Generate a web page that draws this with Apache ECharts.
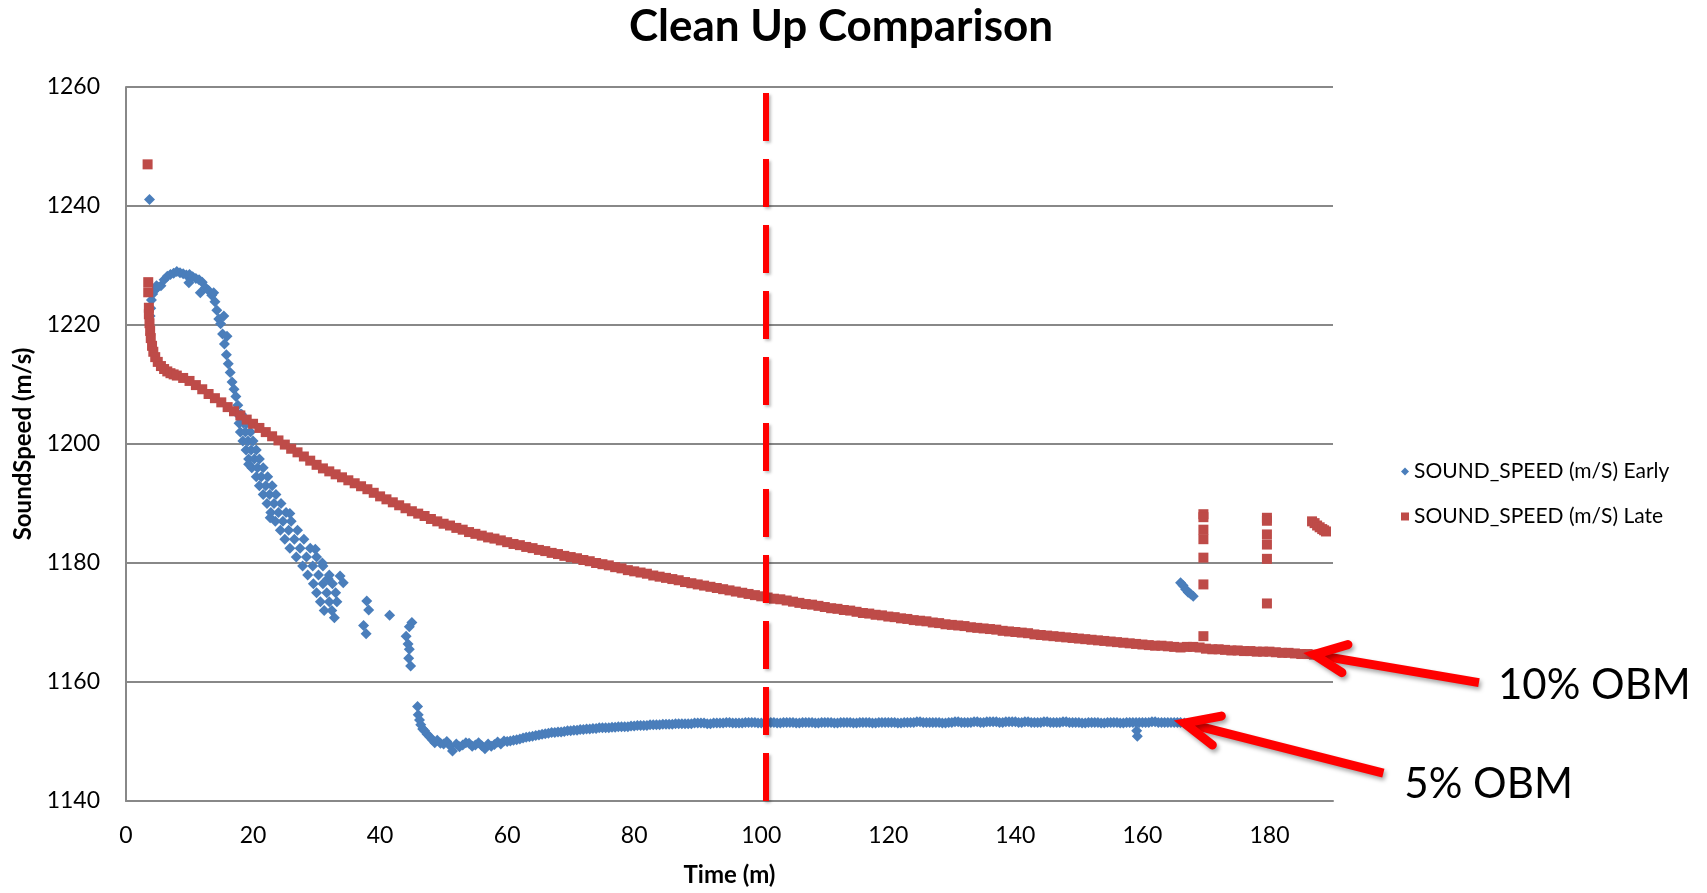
<!DOCTYPE html>
<html>
<head>
<meta charset="utf-8">
<script src="https://cdn.jsdelivr.net/npm/echarts@6/dist/echarts.min.js"></script>
<style>
html,body{margin:0;padding:0;background:#fff;}
#main{width:1707px;height:893px;}
</style>
</head>
<body>
<div id="main"></div>
<script>
// ---------- DATA ----------
const seriesNames = ['SOUND_SPEED (m/S) Early', 'SOUND_SPEED (m/S) Late'];
const xTicks = [0, 20, 40, 60, 80, 100, 120, 140, 160, 180];
const yTicks = [1140, 1160, 1180, 1200, 1220, 1240, 1260];
const cleanupTime = 100.7;

// Early (blue) – [time (m), sound speed (m/s)]
const earlyStart = [[3.7,1241.1],[3.8,1221.5],[3.9,1222.8],[4.0,1224.2],[4.2,1225.2],[4.5,1225.8],[4.8,1226.6],[5.0,1226.4],
  [5.5,1226.6],[6.0,1227.6],[6.5,1228.2],[7.0,1228.5],[7.5,1228.7],[8.0,1229.0],[8.5,1228.8],[9.0,1228.6],[9.5,1228.4],
  [9.9,1227.1],[10.0,1228.5],[10.5,1228.1],[11.0,1227.8],[11.5,1227.6],[11.7,1225.4],[12.0,1227.2],[12.5,1226.3],[13.0,1225.8],
  [13.5,1225.0],[13.8,1225.4],[14.0,1223.9],[14.3,1222.5],[14.6,1221.0],[14.9,1220.2],[15.2,1218.5],[15.4,1221.5],[15.5,1216.8],
  [15.8,1215.0],[15.9,1218.1],[16.1,1213.5],[16.4,1212.0],[16.7,1210.4],[17.0,1209.2],[17.3,1208.0],[17.6,1206.5],[18.0,1205.0]];
const earlyDrop = [[17.6,1205.0],[18.2,1205.0],[17.8,1203.5],[18.5,1203.5],[19.0,1203.5],[18.0,1202.0],[18.8,1202.0],[19.6,1202.0],
  [18.4,1200.5],[19.2,1200.5],[20.0,1200.5],[18.9,1199.0],[19.7,1199.0],[20.5,1199.0],[19.3,1197.5],[20.2,1197.5],[21.0,1197.5],
  [19.8,1196.0],[20.7,1196.0],[21.6,1196.0],[20.5,1194.5],[21.3,1194.5],[22.3,1194.5],[21.0,1193.0],[22.0,1193.0],[23.0,1193.0],
  [21.6,1191.5],[22.6,1191.5],[23.6,1191.5],[22.2,1190.0],[23.3,1190.0],[24.4,1190.0],[22.8,1188.5],[24.0,1188.5],[25.2,1188.5],
  [23.5,1187.0],[24.7,1187.0],[26.0,1187.0],[24.3,1185.5],[25.6,1185.5],[27.0,1185.5],[25.0,1184.0],[26.5,1184.0],[28.0,1184.0],
  [25.8,1182.5],[27.4,1182.5],[29.0,1182.5],[26.8,1181.0],[28.4,1181.0],[30.0,1181.0],[27.8,1179.5],[29.4,1179.5],[31.0,1179.5],
  [28.6,1178.0],[30.3,1178.0],[32.0,1178.0],[33.7,1177.8],[29.5,1176.5],[31.0,1176.5],[32.5,1176.5],[34.2,1176.7],
  [30.0,1175.0],[31.6,1175.0],[33.0,1175.0],[30.6,1173.5],[32.0,1173.5],[33.2,1173.5],[31.2,1172.0],[32.4,1172.0],[32.8,1170.8],
  [19.3,1196.6],[22.7,1187.6],[25.8,1188.3],[29.8,1182.3],[30.9,1180.0],[31.8,1177.4]];
const earlyScatter = [[37.9,1173.6],[38.2,1172.1],[37.4,1169.5],[37.8,1168.1],[41.5,1171.2],[45.0,1170.0],[44.6,1169.3],
  [44.1,1167.7],[44.4,1166.4],[44.6,1165.5],[44.8,1162.7],[44.5,1164.0]];
const earlyFloor = [[45.9,1155.9],[46.0,1154.5],[46.2,1153.6],[46.4,1152.8],[46.7,1152.1],[47.0,1151.8],[47.4,1151.2],[47.8,1150.8],
  [48.2,1150.3],[48.6,1149.8],[49,1150.2],[49.5,1149.7],[50,1149.6],[50.5,1150.0],[51,1149.3],[51.4,1148.4],[52,1149.6],[52.5,1149.1],
  [53,1149.4],[53.5,1149.8],[54,1149.7],[54.5,1149.2],[55,1149.4],[55.5,1149.8],[56,1149.3],[56.5,1148.8],[57,1149.6],[57.5,1149.2],
  [58,1149.5],[58.5,1149.9],[59,1149.6],[59.5,1150.1],[60,1150.0],[60.5,1150.1],[61,1150.2],[61.5,1150.3],[62,1150.4],[62.5,1150.6],
  [63,1150.7],[63.5,1150.8],[64,1150.9],[64.5,1151.0],[65,1151.1],[65.5,1151.2],[66,1151.3],[66.5,1151.4],[67,1151.5],[67.5,1151.5]];
const earlyPlateau = [[68,1151.6],[68.5,1151.6],[69,1151.7],[69.5,1151.8],[70,1151.8],[70.5,1151.9],[71,1151.9],[71.5,1152.0],
  [72,1152.0],[72.5,1152.1],[73,1152.1],[73.5,1152.2],[74,1152.2],[74.5,1152.3],[75,1152.3],[75.5,1152.3],[76,1152.3],[76.5,1152.4],
  [77,1152.4],[77.5,1152.5],[78,1152.5],[78.5,1152.5],[79,1152.5],[79.5,1152.6],[80,1152.6],[80.5,1152.7],[81,1152.7],[81.5,1152.7],
  [82,1152.7],[82.5,1152.8],[83,1152.8],[83.5,1152.8],[84,1152.8],[84.5,1152.9],[85,1152.9],[85.5,1152.9],[86,1152.9],[86.5,1153.0],
  [87,1153.0],[87.5,1153.0],[88,1153.0],[88.5,1153.0],[89,1153.0],[89.5,1153.1],[90,1153.1],[90.5,1153.1],[91,1153.1],[91.5,1153.0],
  [92,1153.0],[92.5,1153.1],[93,1153.1],[93.5,1153.1],[94,1153.1],[94.5,1153.2],[95,1153.2],[95.5,1153.1],[96,1153.1],[96.5,1153.1],
  [97,1153.1],[97.5,1153.2],[98,1153.2],[98.5,1153.2],[99,1153.2],[99.5,1153.1],[100,1153.1],[100.5,1153.2],[101,1153.2],[101.5,1153.2],
  [102,1153.2],[102.5,1153.1],[103,1153.1],[103.5,1153.2],[104,1153.2],[104.5,1153.2],[105,1153.2],[105.5,1153.1],[106,1153.1],
  [106.5,1153.2],[107,1153.2],[107.5,1153.2],[108,1153.2],[108.5,1153.1],[109,1153.1],[109.5,1153.2],[110,1153.2],[110.5,1153.2],
  [111,1153.2],[111.5,1153.1],[112,1153.1],[112.5,1153.2],[113,1153.2],[113.5,1153.2],[114,1153.2],[114.5,1153.1],[115,1153.1],
  [115.5,1153.2],[116,1153.2],[116.5,1153.2],[117,1153.2],[117.5,1153.1],[118,1153.1],[118.5,1153.2],[119,1153.2],[119.5,1153.2],
  [120,1153.2],[120.5,1153.2],[121,1153.2],[121.5,1153.1],[122,1153.1],[122.5,1153.2],[123,1153.2],[123.5,1153.2],[124,1153.2],
  [124.5,1153.3],[125,1153.3],[125.5,1153.2],[126,1153.2],[126.5,1153.2],[127,1153.2],[127.5,1153.2],[128,1153.2],[128.5,1153.1],
  [129,1153.1],[129.5,1153.2],[130,1153.2],[130.5,1153.3],[131,1153.3],[131.5,1153.2],[132,1153.2],[132.5,1153.2],[133,1153.2],
  [133.5,1153.3],[134,1153.3],[134.5,1153.2],[135,1153.2],[135.5,1153.3],[136,1153.3],[136.5,1153.3],[137,1153.3],[137.5,1153.2],
  [138,1153.2],[138.5,1153.3],[139,1153.3],[139.5,1153.3],[140,1153.3],[140.5,1153.2],[141,1153.2],[141.5,1153.3],[142,1153.3],
  [142.5,1153.2],[143,1153.2],[143.5,1153.2],[144,1153.2],[144.5,1153.3],[145,1153.3],[145.5,1153.2],[146,1153.2],[146.5,1153.2],
  [147,1153.2],[147.5,1153.3],[148,1153.3],[148.5,1153.2],[149,1153.2],[149.5,1153.2],[150,1153.2],[150.5,1153.1],[151,1153.1],
  [151.5,1153.2],[152,1153.2],[152.5,1153.2],[153,1153.2],[153.5,1153.1],[154,1153.1],[154.5,1153.2],[155,1153.2],[155.5,1153.2],
  [156,1153.2],[156.5,1153.1],[157,1153.1],[157.5,1153.2],[158,1153.2],[158.5,1153.2],[159,1153.2],[159.2,1150.9],[159.1,1151.8],
  [159.5,1153.2],[160,1153.2],[160.5,1153.2],[161,1153.2],[161.5,1153.3],[162,1153.3],[162.5,1153.2],[163,1153.2],[163.5,1153.2],
  [164,1153.2],[164.5,1153.2],[165,1153.2],[165.5,1153.2],[166,1153.2],[166.6,1153.1]];
const earlyBlip = [[166.0,1176.7],[166.4,1176.2],[166.8,1175.6],[167.2,1175.1],[167.6,1174.8],[168.0,1174.4]];

// Late (red) – [time (m), sound speed (m/s)]
const lateStart = [[3.4,1247.0],[3.5,1227.2],[3.5,1225.5],[3.6,1222.9],[3.6,1221.8]];
const lateCurve = [[3.7,1220.3],[3.8,1219.0],[3.9,1217.8],[4.1,1216.5],[4.3,1215.5],[4.6,1214.6],[5.0,1213.8],[5.5,1213.1],
  [6,1212.6],[6.5,1212.2],[7,1211.9],[7.5,1211.7],[8,1211.5],[9,1211.1],[10,1210.6],[11,1209.9],[12,1209.2],[13,1208.4],[14,1207.7],
  [15,1207.0],[16,1206.2],[17,1205.5],[18,1204.8],[19,1204.1],[20,1203.4],[21,1202.7],[22,1202.0],[23,1201.3],[24,1200.6],[25,1199.9],
  [26,1199.2],[27,1198.6],[28,1197.9],[29,1197.2],[30,1196.5],[31,1195.9],[32,1195.4],[33,1194.9],[34,1194.4],[35,1193.9],[36,1193.4],
  [37,1192.9],[38,1192.4],[39,1191.8],[40,1191.2],[41,1190.7],[42,1190.2],[43,1189.7],[44,1189.2],[45,1188.7],[46,1188.3],[47,1187.9],
  [48,1187.4],[49,1187.0],[50,1186.6],[51,1186.3],[52,1185.9],[53,1185.6],[54,1185.2],[55,1184.9],[56,1184.6],[57,1184.3],[58,1184.1],
  [59,1183.8],[60,1183.5],[61,1183.2],[62,1183.0],[63,1182.7],[64,1182.5],[65,1182.2],[66,1182.0],[67,1181.7],[68,1181.5],[69,1181.2],
  [70,1181.0],[71,1180.8],[72,1180.5],[73,1180.3],[74,1180.0],[75,1179.8],[76,1179.6],[77,1179.3],[78,1179.1],[79,1178.8],[80,1178.6],
  [81,1178.4],[82,1178.2],[83,1177.9],[84,1177.7],[85,1177.5],[86,1177.3],[87,1177.1],[88,1176.8],[89,1176.6],[90,1176.4],[91,1176.2],
  [92,1176.0],[93,1175.8],[94,1175.6],[95,1175.4],[96,1175.2],[97,1175.0],[98,1174.8],[99,1174.6],[100,1174.4],[101,1174.2],
  [102,1174.0],[103,1173.9],[104,1173.7],[105,1173.5],[106,1173.3],[107,1173.1],[108,1173.0],[109,1172.8],[110,1172.6],[111,1172.4],
  [112,1172.3],[113,1172.1],[114,1172.0],[115,1171.8],[116,1171.6],[117,1171.5],[118,1171.3],[119,1171.2],[120,1171.0],[121,1170.9],
  [122,1170.7],[123,1170.6],[124,1170.4],[125,1170.3],[126,1170.2],[127,1170.0],[128,1169.9],[129,1169.7],[130,1169.6],[131,1169.5],
  [132,1169.4],[133,1169.2],[134,1169.1],[135,1169.0],[136,1168.9],[137,1168.8],[138,1168.6],[139,1168.5],[140,1168.4],[141,1168.3],
  [142,1168.2],[143,1168.0],[144,1167.9],[145,1167.8],[146,1167.7],[147,1167.6],[148,1167.5],[149,1167.4],[150,1167.3],[151,1167.2],
  [152,1167.1],[153,1167.0],[154,1166.9],[155,1166.8],[156,1166.7],[157,1166.6],[158,1166.5],[159,1166.4],[160,1166.3],[161,1166.2],
  [162,1166.1],[163,1166.1],[164,1166.0],[165,1165.9],[166,1165.8],[167,1165.9],[168,1165.9],[169,1165.8],[170,1165.6],[171,1165.5],
  [172,1165.5],[173,1165.4],[174,1165.3],[175,1165.3],[176,1165.2],[177,1165.2],[178,1165.1],[179,1165.1],[180,1165.1],[181,1165.0],
  [182,1164.9],[183,1164.9],[184,1164.8],[185,1164.7],[186,1164.7],[187,1164.6]];
const lateOutliers = [[169.6,1188.2],[169.6,1187.7],[169.6,1185.6],[169.6,1184.0],[169.6,1180.9],[169.6,1176.4],[169.6,1167.7],
  [179.6,1187.6],[179.6,1187.1],[179.6,1184.8],[179.6,1183.1],[179.6,1180.7],[179.6,1173.2]];
const lateTail = [[186.7,1187.0],[187.1,1186.7],[187.5,1186.3],[187.9,1186.0],[188.3,1185.7],[188.6,1185.5],[188.9,1185.3]];

// annotations: [label, [time, speed] that the arrow points at]
const annoLabels = ['10% OBM', '5% OBM'];
const annoTargets = [[187.0, 1164.6], [166.6, 1153.1]];

// ---------- CHART ----------
const FONT = 'Lato';
const earlyData = earlyStart.concat(earlyDrop, earlyScatter, earlyFloor, earlyPlateau, earlyBlip);
const lateData = lateStart.concat(lateCurve, lateOutliers, lateTail);

const chart = echarts.init(document.getElementById('main'));
chart.setOption({
  animation: false,
  backgroundColor: '#ffffff',
  title: {
    text: 'Clean Up Comparison', left: 836, top: 0, textAlign: 'center',
    textStyle: {fontFamily: FONT, fontWeight: 'bold', fontSize: 44, color: '#000'}
  },
  grid: {left: 126, top: 87, width: 1207, height: 714},
  legend: {
    orient: 'vertical', left: 1396, top: 455, itemWidth: 8, itemHeight: 8, itemGap: 22,
    textStyle: {fontFamily: FONT, fontSize: 21, color: '#000', lineHeight: 23},
    data: [{name: seriesNames[0], icon: 'diamond'}, {name: seriesNames[1], icon: 'rect'}]
  },
  xAxis: {
    type: 'value', min: xTicks[0], max: 190, interval: 20,
    name: 'Time (m)', nameLocation: 'middle', nameGap: 62,
    nameTextStyle: {fontFamily: FONT, fontWeight: 'bold', fontSize: 24, color: '#000'},
    axisLine: {onZero: false, lineStyle: {color: '#888', width: 2}},
    axisTick: {show: false}, splitLine: {show: false},
    axisLabel: {margin: 23, fontFamily: FONT, fontSize: 23, color: '#000', showMaxLabel: false,
      formatter: v => xTicks.indexOf(v) >= 0 ? String(v) : ''}
  },
  yAxis: {
    type: 'value', min: yTicks[0], max: yTicks[yTicks.length - 1], interval: 20,
    name: 'SoundSpeed (m/s)', nameLocation: 'middle', nameRotate: 90, nameGap: 90,
    nameTextStyle: {fontFamily: FONT, fontWeight: 'bold', fontSize: 24, color: '#000'},
    axisLine: {show: true, lineStyle: {color: '#888', width: 2}},
    axisTick: {show: false},
    splitLine: {lineStyle: {color: '#888', width: 2}},
    axisLabel: {margin: 26, fontFamily: FONT, fontSize: 23, color: '#000', formatter: v => String(v)}
  },
  series: [
    {name: seriesNames[0], type: 'scatter', symbol: 'diamond', symbolSize: 11,
      itemStyle: {color: '#4A7EBB', opacity: 1}, data: earlyData, z: 2},
    {name: seriesNames[1], type: 'scatter', symbol: 'rect', symbolSize: 10,
      itemStyle: {color: '#BE4B48', opacity: 1}, data: lateData, z: 3},
    {name: 'cleanup', type: 'scatter', data: [], z: 5,
      markLine: {
        silent: true, symbol: ['none', 'none'], label: {show: false},
        lineStyle: {color: '#FF0000', width: 6, type: [48, 18], opacity: 1,
          shadowBlur: 3, shadowColor: 'rgba(0,0,0,0.25)', shadowOffsetX: 2, shadowOffsetY: 2},
        data: [[{coord: [cleanupTime, 1259]}, {coord: [cleanupTime, yTicks[0]]}]]
      }}
  ]
});

// arrows + annotation text anchored at data points
const arrowGeom = [
  {barbA: [34, -10], barbB: [28, 18], tail: [165, 28], text: [184, 31], size: 42},
  {barbA: [37, -7], barbB: [28, 22], tail: [199, 50], text: [220, 61], size: 42}
];
const shadow = {shadowBlur: 4, shadowColor: 'rgba(0,0,0,0.35)', shadowOffsetX: 2, shadowOffsetY: 3};
const graphics = [];
annoTargets.forEach((t, i) => {
  const p = chart.convertToPixel({gridIndex: 0}, t);
  const g = arrowGeom[i];
  graphics.push({type: 'polyline', z: 50, shape: {points: [[p[0] + g.tail[0], p[1] + g.tail[1]], [p[0] + 6, p[1] + 1]]},
    style: Object.assign({stroke: '#FF0000', lineWidth: 9, fill: null, lineCap: 'butt'}, shadow)});
  graphics.push({type: 'polyline', z: 50, shape: {points: [[p[0] + g.barbA[0], p[1] + g.barbA[1]], [p[0], p[1]], [p[0] + g.barbB[0], p[1] + g.barbB[1]]]},
    style: Object.assign({stroke: '#FF0000', lineWidth: 9, fill: null, lineCap: 'round', lineJoin: 'miter'}, shadow)});
  graphics.push({type: 'text', z: 50, x: p[0] + g.text[0], y: p[1] + g.text[1],
    style: {text: annoLabels[i], fontFamily: FONT, fontSize: g.size, fill: '#000', verticalAlign: 'middle', align: 'left'}});
});
chart.setOption({graphic: graphics});
</script>
</body>
</html>
